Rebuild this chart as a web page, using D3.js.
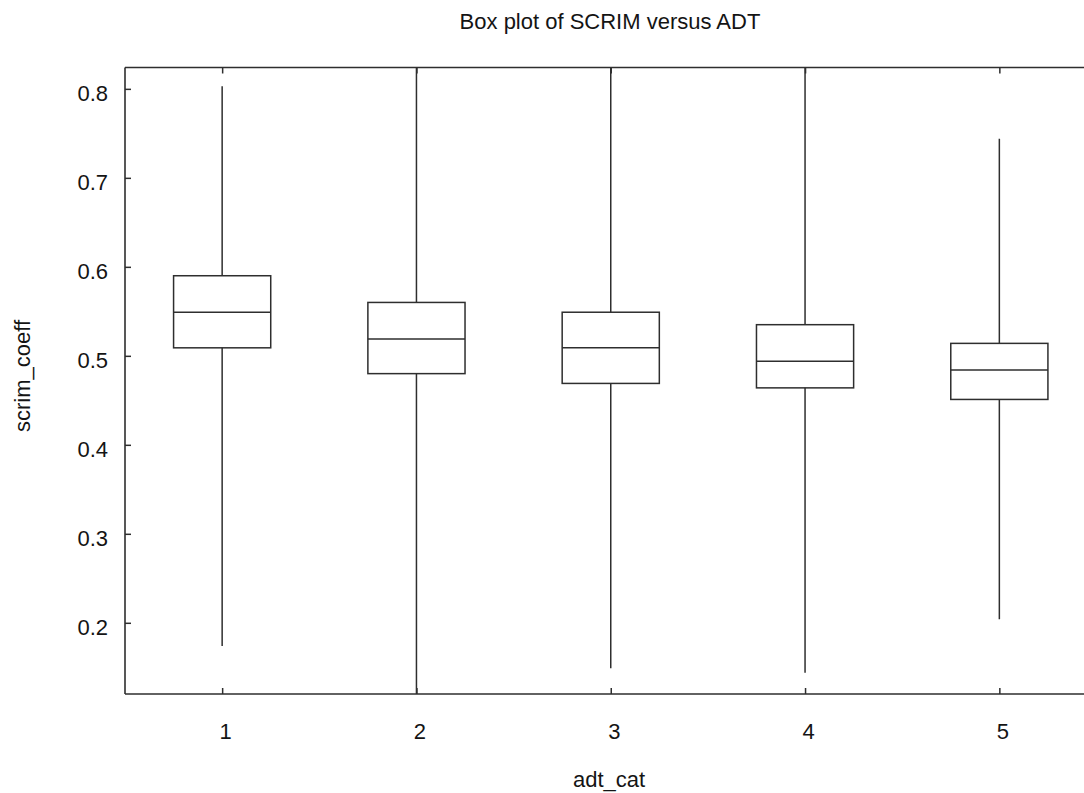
<!DOCTYPE html>
<html>
<head>
<meta charset="utf-8">
<script src="https://cdn.jsdelivr.net/npm/d3@7"></script>
<style>
  html, body { margin: 0; padding: 0; background: #fff; }
  svg { display: block; }
  text { font-family: "Liberation Sans", Arial, sans-serif; fill: #141414; }
</style>
</head>
<body>
<svg id="chart" width="1084" height="793"></svg>
<script>
// Categories of ADT and the five-number summary of scrim_coeff per category
const categories = [1, 2, 3, 4, 5];
const whiskerLow  = [0.174, 0.100, 0.149, 0.144, 0.204];
const quartile1   = [0.509, 0.480, 0.469, 0.464, 0.451];
const medians     = [0.549, 0.519, 0.509, 0.494, 0.484];
const quartile3   = [0.590, 0.560, 0.549, 0.535, 0.514];
const whiskerHigh = [0.803, 0.880, 0.870, 0.900, 0.744];
const yTickValues = [0.2, 0.3, 0.4, 0.5, 0.6, 0.7, 0.8];

const boxes = categories.map((c, i) => ({
  cat: c, lo: whiskerLow[i], q1: quartile1[i], med: medians[i],
  q3: quartile3[i], hi: whiskerHigh[i]
}));

const svg = d3.select("#chart");
const plot = { left: 125, top: 67.5, bottom: 694, right: 1096.5 };
const stroke = "#2e2e2e";
const fontSize = 22;

const x = d3.scaleLinear().domain([0.5, 5.5]).range([plot.left, plot.right]);
const y = d3.scaleLinear().domain([0.12, 0.824]).range([plot.bottom, plot.top]);

// Clip marks to the plotting region
svg.append("clipPath").attr("id", "plotClip")
  .append("rect")
  .attr("x", plot.left).attr("y", plot.top)
  .attr("width", plot.right - plot.left).attr("height", plot.bottom - plot.top);

const g = svg.append("g").attr("clip-path", "url(#plotClip)");
const halfW = 0.25;

// Whiskers
g.selectAll("line.whisk-lo").data(boxes).join("line")
  .attr("x1", d => x(d.cat)).attr("x2", d => x(d.cat))
  .attr("y1", d => y(d.lo)).attr("y2", d => y(d.q1))
  .attr("stroke", stroke).attr("stroke-width", 1.5);
g.selectAll("line.whisk-hi").data(boxes).join("line")
  .attr("x1", d => x(d.cat)).attr("x2", d => x(d.cat))
  .attr("y1", d => y(d.q3)).attr("y2", d => y(d.hi))
  .attr("stroke", stroke).attr("stroke-width", 1.5);

// Boxes
g.selectAll("rect.box").data(boxes).join("rect")
  .attr("x", d => x(d.cat - halfW))
  .attr("width", d => x(d.cat + halfW) - x(d.cat - halfW))
  .attr("y", d => y(d.q3))
  .attr("height", d => y(d.q1) - y(d.q3))
  .attr("fill", "none").attr("stroke", stroke).attr("stroke-width", 1.5);

// Medians
g.selectAll("line.median").data(boxes).join("line")
  .attr("x1", d => x(d.cat - halfW)).attr("x2", d => x(d.cat + halfW))
  .attr("y1", d => y(d.med)).attr("y2", d => y(d.med))
  .attr("stroke", stroke).attr("stroke-width", 1.5);

// Frame
const frame = svg.append("g");
frame.append("line").attr("x1", plot.left).attr("x2", plot.right)
  .attr("y1", plot.top).attr("y2", plot.top)
  .attr("stroke", stroke).attr("stroke-width", 1.6);
frame.append("line").attr("x1", plot.left).attr("x2", plot.right)
  .attr("y1", plot.bottom).attr("y2", plot.bottom)
  .attr("stroke", stroke).attr("stroke-width", 1.6);
frame.append("line").attr("x1", plot.left).attr("x2", plot.left)
  .attr("y1", plot.top).attr("y2", plot.bottom)
  .attr("stroke", stroke).attr("stroke-width", 1.6);

// Y axis (ticks pointing inward)
const yAxis = d3.axisLeft(y).tickValues(yTickValues).tickFormat(d3.format(".1f"))
  .tickSizeInner(-6).tickSizeOuter(0).tickPadding(17);
const gy = svg.append("g").attr("transform", `translate(${plot.left},0)`).call(yAxis);
gy.select(".domain").remove();
gy.selectAll(".tick line").attr("stroke", stroke).attr("stroke-width", 1.5);
gy.selectAll(".tick text").attr("font-size", fontSize).attr("dy", "0.55em")
  .attr("x", -17).style("text-anchor", "end");

// X axis bottom (ticks pointing inward)
const xAxis = d3.axisBottom(x).tickValues(categories).tickFormat(d3.format("d"))
  .tickSizeInner(-6).tickSizeOuter(0).tickPadding(0);
const gx = svg.append("g").attr("transform", `translate(0,${plot.bottom})`).call(xAxis);
gx.select(".domain").remove();
gx.selectAll(".tick line").attr("stroke", stroke).attr("stroke-width", 1.5);
gx.selectAll(".tick text").attr("font-size", fontSize).attr("y", 45).attr("dy", 0).attr("dx", 3);

// X axis top ticks
const xTop = d3.axisTop(x).tickValues(categories).tickFormat("")
  .tickSizeInner(-6).tickSizeOuter(0);
const gxt = svg.append("g").attr("transform", `translate(0,${plot.top})`).call(xTop);
gxt.select(".domain").remove();
gxt.selectAll(".tick line").attr("stroke", stroke).attr("stroke-width", 1.5);

// Titles
svg.append("text").attr("x", 610).attr("y", 29).attr("text-anchor", "middle")
  .attr("font-size", fontSize).text("Box plot of SCRIM versus ADT");
svg.append("text").attr("x", 609).attr("y", 787).attr("text-anchor", "middle")
  .attr("font-size", fontSize).text("adt_cat");
svg.append("text").attr("transform", "translate(30,376) rotate(-90)")
  .attr("text-anchor", "middle").attr("font-size", fontSize).text("scrim_coeff");
</script>
</body>
</html>
